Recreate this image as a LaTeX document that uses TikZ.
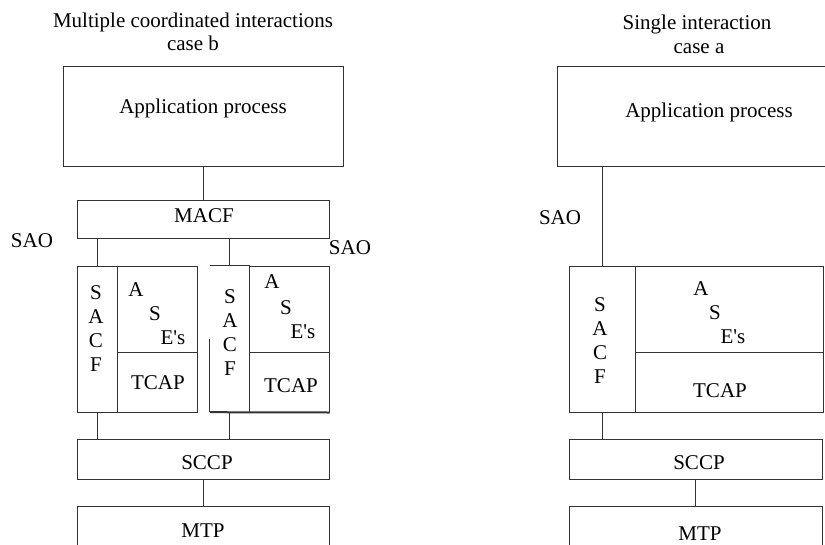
\documentclass[tikz,border=0pt]{standalone}
\usepackage{fontspec}
\setmainfont{Liberation Serif}
\begin{document}
\begin{tikzpicture}[x=1pt,y=-1pt,
  box/.style={draw=black!80, line width=1pt, rectangle, inner sep=0pt},
  lbl/.style={inner sep=0pt, font=\fontsize{21}{25}\selectfont, anchor=base},
  conn/.style={draw=black!80, line width=1pt}]
\useasboundingbox (0,0) rectangle (825,544);
\clip (0,0) rectangle (825,544);
% ---------- case b ----------
\node[lbl] (t1) at (193,27) {Multiple coordinated interactions};
\node[lbl] (t2) at (193,50) {case b};
\node[box, minimum width=280, minimum height=100] (app1) at (203,116) {};
\node[lbl] (app1t) at (203,113) {Application process};
\node[box, minimum width=252, minimum height=38] (macf1) at (203,219) {};
\node[lbl] (macf1t) at (204,222) {MACF};
\node[lbl] (sao1) at (32,247) {SAO};
\node[lbl] (sao2) at (350,254) {SAO};
\node[box, minimum width=40, minimum height=146] (sacf1) at (97,339) {};
\node[box, minimum width=80, minimum height=86] (ase1) at (157,309) {};
\node[box, minimum width=80, minimum height=60] (tcap1) at (157,382) {};
\node[inner sep=0pt, minimum width=39, minimum height=146] (sacf2) at (229.5,339) {};
\node[box, minimum width=80, minimum height=86] (ase2) at (289,309) {};
\node[box, minimum width=80, minimum height=60] (tcap2) at (289,382) {};
\draw[conn] (sacf2.north west) -- (sacf2.north east) -- (sacf2.south east);
\draw[conn] (sacf2.south west) ++(0,-73) -- (sacf2.south west);
\draw[conn, line width=2pt] (sacf2.south west) -- (tcap2.south east);
\foreach \l [count=\i] in {S,A,C,F} {
  \node[lbl] (sa\i) at (96,{299+24.3*(\i-1)}) {\l};
  \node[lbl] (sb\i) at (230,{303+24.3*(\i-1)}) {\l};
  \node[lbl] (sc\i) at (600,{311+24*(\i-1)}) {\l};
}
\node[lbl] (a1) at (136,296) {A};
\node[lbl] (s1) at (155,320) {S};
\node[lbl] (e1) at (173,344) {E\textquotesingle s};
\node[lbl] (tc1) at (158,389) {TCAP};
\node[lbl] (a2) at (272,288) {A};
\node[lbl] (s2) at (286,314) {S};
\node[lbl] (e2) at (303,338) {E\textquotesingle s};
\node[lbl] (tc2) at (291,392) {TCAP};
\node[box, minimum width=252, minimum height=40] (sccp1) at (203,459) {};
\node[lbl] (sccp1t) at (207,469) {SCCP};
\node[box, minimum width=252, minimum height=54] (mtp1) at (203,533) {};
\node[lbl] (mtp1t) at (203,537) {MTP};
\draw[conn] (app1.south) -- (macf1.north);
\draw[conn] (sacf1.north) -- (sacf1.north |- macf1.south);
\draw[conn] (sacf2.north) -- (sacf2.north |- macf1.south);
\draw[conn] (sacf1.south) -- (sacf1.south |- sccp1.north);
\draw[conn] (sacf2.south) -- (sacf2.south |- sccp1.north);
\draw[conn] (sccp1.south) -- (mtp1.north);
% ---------- case a ----------
\node[lbl] (t3) at (697,29) {Single interaction};
\node[lbl] (t4) at (699,53) {case a};
\node[box, minimum width=283, minimum height=100] (app3) at (698.5,116) {};
\node[lbl] (app3t) at (709,117) {Application process};
\node[lbl] (sao3) at (560,224) {SAO};
\node[box, minimum width=66, minimum height=146] (sacf3) at (602,339) {};
\node[box, minimum width=188, minimum height=86] (ase3) at (729,309) {};
\node[box, minimum width=188, minimum height=60] (tcap3) at (729,382) {};
\node[lbl] (a3) at (701,295) {A};
\node[lbl] (s3) at (715,319) {S};
\node[lbl] (e3) at (733,343) {E\textquotesingle s};
\node[lbl] (tc3) at (720,397) {TCAP};
\node[box, minimum width=253, minimum height=40] (sccp3) at (695.5,459) {};
\node[lbl] (sccp3t) at (699,469) {SCCP};
\node[box, minimum width=253, minimum height=54] (mtp3) at (695.5,533) {};
\node[lbl] (mtp3t) at (700,540) {MTP};
\draw[conn] (sacf3.north) -- (sacf3.north |- app3.south);
\draw[conn] (sacf3.south) -- (sacf3.south |- sccp3.north);
\draw[conn] (sccp3.south) -- (mtp3.north);
\end{tikzpicture}
\end{document}
